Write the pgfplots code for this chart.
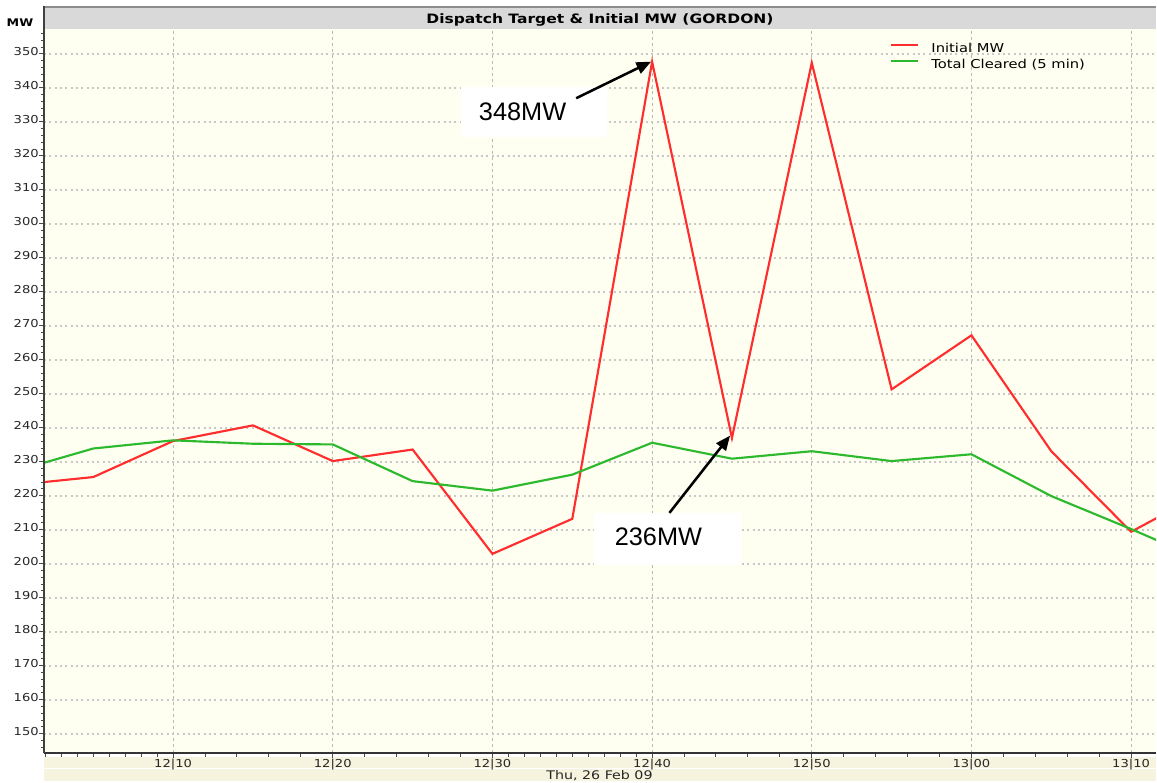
\documentclass[border=0pt]{standalone}
\usepackage{fontspec}
\usepackage{pgfplots}
\pgfplotsset{compat=1.18}
\usetikzlibrary{arrows.meta}
\newfontfamily\cf[FakeStretch=1.2]{DejaVu Sans}
\newfontfamily\af{Liberation Sans}
\definecolor{plotbg}{RGB}{255,255,241}
\definecolor{titlebg}{RGB}{217,217,217}
\definecolor{bandbg}{RGB}{246,244,222}
\definecolor{redl}{RGB}{255,45,45}
\definecolor{greenl}{RGB}{45,185,45}
\definecolor{gridc}{RGB}{200,200,200}
\definecolor{vgridc}{RGB}{185,185,185}

\begin{document}
\begin{tikzpicture}
\begin{scope}[x=0.75pt,y=0.75pt]
\path[use as bounding box] (0,0) rectangle (1157,783);
\fill[white] (0,0) rectangle (1157,783);
\fill[titlebg] (44,753.5) rectangle (1157,776);
\draw[black!45, line width=2pt] (44,776) -- (1157,776);
\node[font=\cf\bfseries\fontsize{9.7}{11}\selectfont, anchor=base, inner sep=0pt] at (600.5,759) {Dispatch Target \& Initial MW (GORDON)};
\node[font=\cf\bfseries\fontsize{7.9}{9}\selectfont, anchor=base east, inner sep=0pt] at (33.5,756.3) {MW};
\fill[bandbg] (44,1) rectangle (1157,25.7);
\draw[white, line width=0.75pt] (44,13.7) -- (1157,13.7);
\node[font=\cf\fontsize{8.9}{10}\selectfont, anchor=base, inner sep=0pt, text=black!85] at (600,3) {Thu, 26 Feb 09};
\end{scope}

\begin{axis}[
  at={(33pt,21.75pt)}, anchor=south west, scale only axis,
  width=834.75pt, height=543.4pt,
  xmin=1.91, xmax=71.56, ymin=144.2, ymax=357.2,
  axis x line=bottom, axis y line=left,
  axis line style={-, line width=1.3pt, color=black!80},
  xtick={10,20,...,70},
  xticklabels={12|10,12|20,12|30,12|40,12|50,13|00,13|10},
  minor xtick={2,3,...,9,12,14,16,18,22,24,26,28,31,32,...,39,42,44,46,48,52,54,56,58,62,64,66,68},
  ytick={150,160,...,350},
  minor ytick={146,148,...,356},
  /pgf/number format/assume math mode=true,
  tick align=outside, major tick length=3.75pt, minor tick length=2.5pt,
  tick style={color=black!70, line width=0.75pt},
  xmajorgrids, ymajorgrids,
  x grid style={vgridc, dash pattern=on 2.25pt off 2.25pt, line width=0.6pt},
  y grid style={gridc, dash pattern=on 1.5pt off 2.5pt, line width=1.5pt},
  axis background/.style={fill=plotbg},
  ticklabel style={font=\cf\fontsize{8.2}{9}\selectfont, text=black!85},
  xticklabel style={anchor=north, inner sep=0pt, yshift=-0.5pt},
  yticklabel style={anchor=east, inner sep=0pt, yshift=1.5pt},
  legend style={at={(axis description cs:0.7607,0.9814)}, anchor=north west,
    draw=none, fill=none, inner sep=0pt, outer sep=0pt,
    font=\cf\fontsize{9.2}{10}\selectfont,
    nodes={inner sep=0pt, text height=7pt, text depth=2pt, anchor=west},
    row sep=3.2pt, cells={anchor=west}},
  legend image code/.code={\draw[#1] (0pt,3pt) -- (20.4pt,3pt); \path (29.6pt,3pt);},
]
\addplot[color=redl, line width=1.6pt] coordinates {
 (0,223.1) (5,225.5) (10,236.1) (15,240.7) (20,230.2) (25,233.6) (30,202.9)
 (35,213.2) (40,347.7) (45,237.0) (50,347.4) (55,251.3) (60,267.2) (65,233.1)
 (70,209.4) (75,222.0)};
\addlegendentry{Initial MW}
\addplot[color=greenl, line width=1.6pt] coordinates {
 (0,227.1) (5,233.9) (10,236.3) (15,235.3) (20,235.1) (25,224.3) (30,221.5)
 (35,226.2) (40,235.6) (45,230.9) (50,233.1) (55,230.2) (60,232.2) (65,219.9)
 (70,210.2) (75,200.0)};
\addlegendentry{Total Cleared (5 min)}
\end{axis}

\begin{scope}[x=0.75pt,y=0.75pt]
\fill[white] (461,646) rectangle (608,696);
\node[font=\af\fontsize{19}{22}\selectfont, inner sep=0pt] at (523,670.7) {348MW};
\draw[line width=1.9pt, -{Triangle[length=11pt,width=9pt]}] (576.7,684.7) -- (651.7,721.3);
\fill[white] (595,218) rectangle (742,270);
\node[font=\af\fontsize{19}{22}\selectfont, inner sep=0pt] at (659,245.5) {236MW};
\draw[line width=1.9pt, -{Triangle[length=11pt,width=9pt]}] (670,269.7) -- (730.7,347);
\draw[color=black!75, line width=1.3pt] (44,29) -- (44,777);
\end{scope}
\end{tikzpicture}
\end{document}
